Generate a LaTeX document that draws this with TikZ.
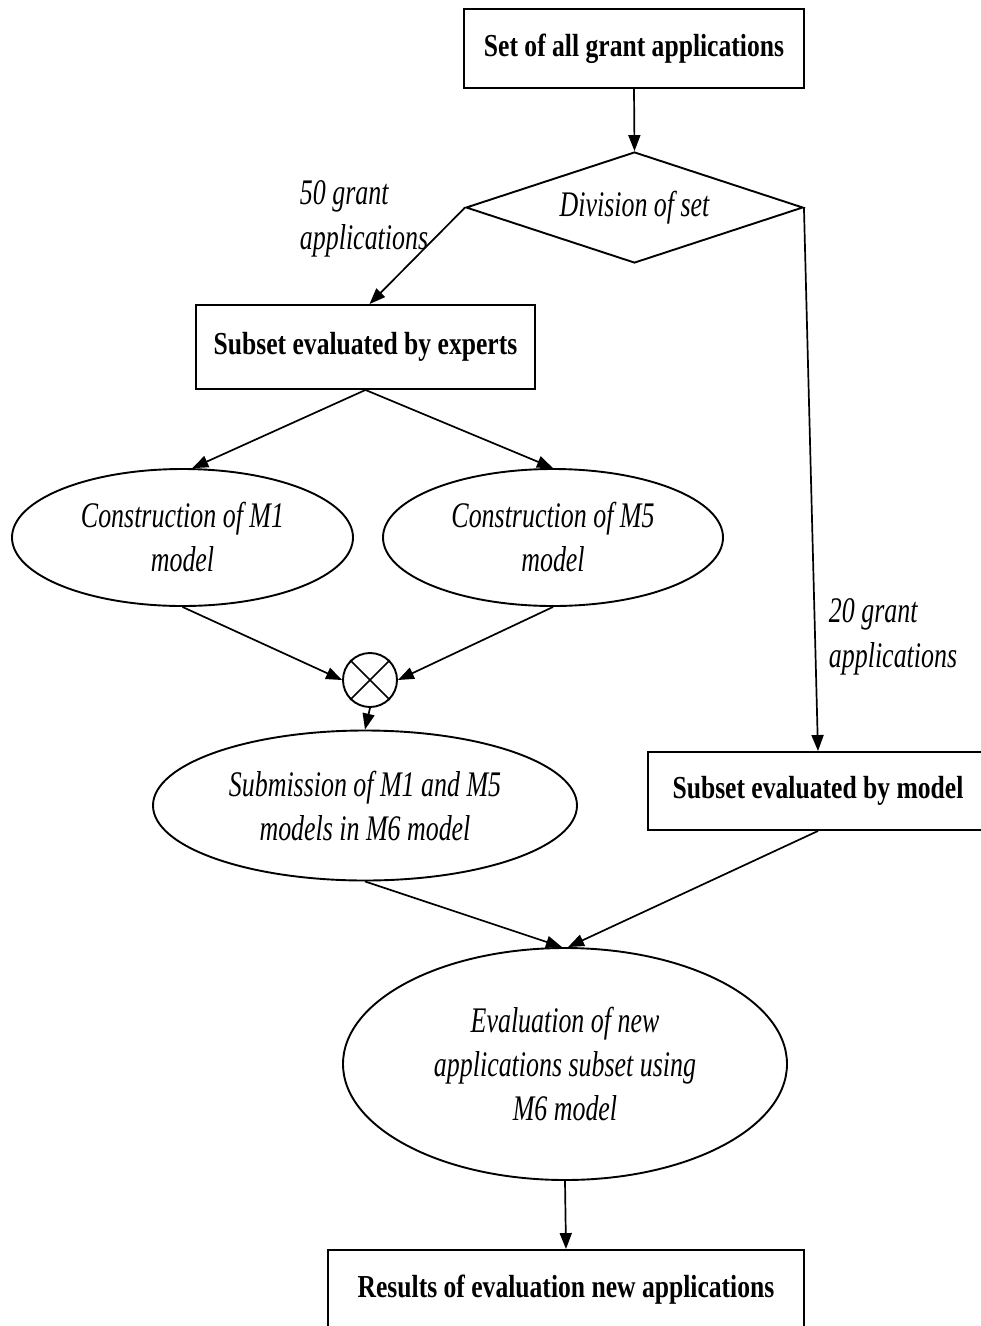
\documentclass[tikz,border=0pt]{standalone}
\usepackage{fontspec}
\setmainfont{Liberation Serif}
\newfontfamily\boxfont{Liberation Serif}[FakeStretch=0.8]
\newfontfamily\itfont{Liberation Serif}[FakeStretch=0.72]
\usetikzlibrary{shapes.geometric,arrows.meta}
\begin{document}
\begin{tikzpicture}[x=1pt,y=-1pt,
  line width=1.9pt,
  boxstyle/.style={draw, rectangle, inner sep=0pt, align=center,
    font=\boxfont\bfseries\fontsize{32}{38}\selectfont},
  ellstyle/.style={draw, ellipse, inner sep=0pt, align=center,
    font=\itfont\itshape\fontsize{36}{44}\selectfont},
  lbl/.style={inner sep=0pt, align=left,
    font=\itfont\itshape\fontsize{36}{45}\selectfont},
  arr/.style={-{Triangle[length=16pt,width=12pt]}, line width=1.7pt}
]
\useasboundingbox (0,0) rectangle (981,1326);
\clip (0,0) rectangle (981,1326);
\fill[white] (0,0) rectangle (981,1326);

\node[boxstyle, minimum width=340, minimum height=79] (top) at (634,48.5) {Set of all grant applications};
\node[draw, diamond, inner sep=0pt, aspect=3, minimum width=337, minimum height=111,
  font=\itfont\itshape\fontsize{36}{44}\selectfont] (div) at (634.5,207.5) {Division of set};
\node[boxstyle, minimum width=339, minimum height=84] (se) at (365.5,347) {Subset evaluated by experts};
\node[boxstyle, minimum width=340, minimum height=78] (sm) at (818,791) {Subset evaluated by model};
\node[ellstyle, minimum width=341, minimum height=137] (m1) at (182.5,537.5) {Construction of M1\\model};
\node[ellstyle, minimum width=340, minimum height=137] (m5) at (553,537.5) {Construction of M5\\model};
\node[draw, circle, inner sep=0pt, minimum size=54] (x) at (370,680) {};
\draw[line width=1.5pt] (x.north west) -- (x.south east) (x.north east) -- (x.south west);
\node[ellstyle, minimum width=424, minimum height=150] (sub) at (365,805.5) {Submission of M1 and M5\\models in M6 model};
\node[ellstyle, minimum width=444, minimum height=232] (ev) at (565,1064) {Evaluation of new\\applications subset using\\M6 model};
\node[boxstyle, minimum width=476, minimum height=80] (res) at (566,1290) {Results of evaluation new applications};

\node[lbl, anchor=north west] (l50) at (299,180) {50 grant\\applications};
\node[lbl, anchor=north west] (l20) at (828,598) {20 grant\\applications};

\draw[arr] (top.south) -- (div.north);
\draw[arr] (div.west) -- ([xshift=4pt]se.north);
\draw[arr] (div.east) -- (sm.north);
\draw[arr] (se.south) -- (m1.82);
\draw[arr] (se.south) -- (m5.north);
\draw[arr] (m1.south) -- (x.west);
\draw[arr] (m5.south) -- (x.east);
\draw[arr] (x.south) -- (sub.north);
\draw[arr] (sub.south) -- ([xshift=-3pt]ev.north);
\draw[arr] (sm.south) -- ([xshift=3pt]ev.north);
\draw[arr] (ev.south) -- (res.north);
\end{tikzpicture}
\end{document}
